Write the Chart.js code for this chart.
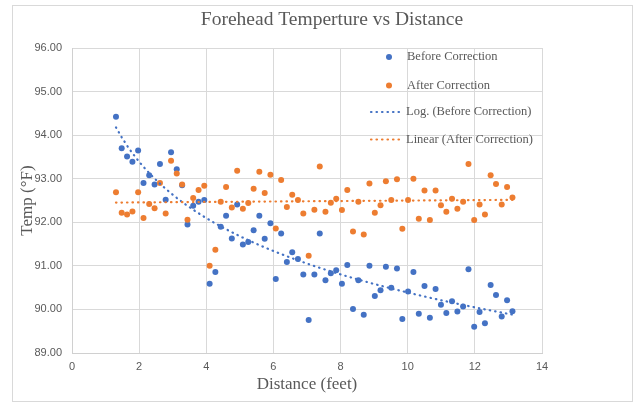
<!DOCTYPE html>
<html>
<head>
<meta charset="utf-8">
<script src="https://cdn.jsdelivr.net/npm/chart.js@4.4.1/dist/chart.umd.min.js"></script>
<style>
html, body { margin: 0; padding: 0; background: #fff; }
</style>
</head>
<body>
<canvas id="graficoTemp" width="642" height="404"></canvas>
<script>
// distance in feet (one reading every 5 cm)
var distanceFt = [1.31,1.48,1.64,1.80,1.97,2.13,2.30,2.46,2.62,2.79,
    2.95,3.12,3.28,3.44,3.61,3.77,3.94,4.10,4.27,4.43,
    4.59,4.76,4.92,5.09,5.25,5.41,5.58,5.74,5.91,6.07,
    6.23,6.40,6.56,6.73,6.89,7.05,7.22,7.38,7.55,7.71,
    7.87,8.04,8.20,8.37,8.53,8.69,8.86,9.02,9.19,9.35,
    9.51,9.68,9.84,10.01,10.17,10.33,10.50,10.66,10.83,10.99,
    11.15,11.32,11.48,11.65,11.81,11.98,12.14,12.30,12.47,12.63,
    12.80,12.96,13.12];

var beforeCorrection = [94.42,93.70,93.51,93.39,93.65,92.90,93.08,92.87,93.34,92.52,
    93.61,93.22,92.85,91.95,92.38,92.47,92.51,90.59,90.86,91.90,
    92.15,91.63,92.41,91.49,91.55,91.82,92.15,91.62,91.98,90.70,
    91.74,91.09,91.31,91.16,90.80,89.76,90.80,91.74,90.67,90.83,
    90.90,90.59,91.02,90.01,90.67,89.88,91.00,90.31,90.44,90.98,
    90.50,90.94,89.78,90.41,90.86,89.90,90.54,89.81,90.47,90.11,
    89.92,90.19,89.95,90.07,90.92,89.60,89.94,89.68,90.56,90.33,
    89.84,90.21,89.96];

var afterCorrection = [92.69,92.22,92.18,92.25,92.69,92.10,92.42,92.32,92.90,92.20,
    93.41,93.12,92.87,92.06,92.56,92.74,92.84,91.00,91.37,92.47,
    92.81,92.34,93.18,92.31,92.44,92.77,93.16,92.67,93.09,91.86,
    92.97,92.35,92.63,92.51,92.20,91.23,92.29,93.28,92.24,92.45,
    92.54,92.28,92.74,91.79,92.47,91.72,92.89,92.22,92.39,92.94,
    92.51,92.99,91.85,92.51,93.00,92.08,92.73,92.05,92.73,92.39,
    92.24,92.54,92.31,92.47,93.34,92.05,92.41,92.18,93.08,92.88,
    92.41,92.81,92.57];

var xTicks = [0, 2, 4, 6, 8, 10, 12, 14];
var yTicks = [89, 90, 91, 92, 93, 94, 95, 96];

var seriesNames = ['Before Correction', 'After Correction',
    'Log. (Before Correction)', 'Linear (After Correction)'];

var azul = '#4472C4';
var laranja = '#ED7D31';
var cinza = '#595959';

function pontos(xs, ys) {
    return xs.map(function (x, i) { return { x: x, y: ys[i] }; });
}

// least squares, like the excel trendlines
function ajuste(xs, ys, f) {
    var n = xs.length, sx = 0, sy = 0, sxx = 0, sxy = 0;
    for (var i = 0; i < n; i++) {
        var u = f(xs[i]);
        sx += u; sy += ys[i]; sxx += u * u; sxy += u * ys[i];
    }
    var b = (n * sxy - sx * sy) / (n * sxx - sx * sx);
    var a = (sy - b * sx) / n;
    return function (x) { return a + b * f(x); };
}

var logBefore = ajuste(distanceFt, beforeCorrection, Math.log);
var linAfter = ajuste(distanceFt, afterCorrection, function (x) { return x; });

var trendLog = distanceFt.map(function (x) { return { x: x, y: logBefore(x) }; });
var xMin = distanceFt[0], xMax = distanceFt[distanceFt.length - 1];
var trendLin = [{ x: xMin, y: linAfter(xMin) }, { x: xMax, y: linAfter(xMax) }];

// title, chart border and the legend sitting inside the plot
var enfeites = {
    id: 'enfeites',
    beforeDraw: function (chart) {
        var c = chart.ctx;
        c.save();
        c.fillStyle = '#fff';
        c.fillRect(0, 0, chart.width, chart.height);
        c.strokeStyle = '#d9d9d9';
        c.lineWidth = 1;
        c.strokeRect(12.5, 5.5, 620, 396);
        c.fillStyle = cinza;
        c.font = '19.5px "Liberation Serif", "Times New Roman", serif';
        c.textAlign = 'center';
        c.textBaseline = 'middle';
        c.fillText('Forehead Temperture vs Distance', 332, 20);
        c.restore();
    },
    afterDraw: function (chart) {
        var c = chart.ctx;
        var ds = chart.data.datasets;
        c.save();
        c.font = '12.5px "Liberation Serif", "Times New Roman", serif';
        c.fillStyle = cinza;
        c.textAlign = 'left';
        c.textBaseline = 'middle';
        var linhas = [57, 85.5, 112, 139.5];
        for (var i = 0; i < 4; i++) {
            var y = linhas[i];
            var d = ds[i];
            if (i < 2) {
                c.beginPath();
                c.fillStyle = d.backgroundColor;
                c.arc(389, y, 3, 0, Math.PI * 2);
                c.fill();
                c.fillStyle = cinza;
                c.fillText(d.label, 407, y);
            } else {
                c.beginPath();
                c.strokeStyle = d.borderColor;
                c.lineWidth = d.borderWidth;
                c.lineCap = 'round';
                c.setLineDash(d.borderDash);
                c.moveTo(371, y);
                c.lineTo(403, y);
                c.stroke();
                c.setLineDash([]);
                c.fillStyle = cinza;
                c.fillText(d.label, 406, y);
            }
        }
        c.restore();
    }
};

var ctx = document.getElementById('graficoTemp').getContext('2d');
var graficoTemp = new Chart(ctx, {
    type: 'scatter',
    data: {
        datasets: [
            {
                label: seriesNames[0],
                data: pontos(distanceFt, beforeCorrection),
                backgroundColor: azul,
                borderColor: azul,
                pointRadius: 3,
                pointBorderWidth: 0,
                order: 3
            },
            {
                label: seriesNames[1],
                data: pontos(distanceFt, afterCorrection),
                backgroundColor: laranja,
                borderColor: laranja,
                pointRadius: 3,
                pointBorderWidth: 0,
                order: 2
            },
            {
                label: seriesNames[2],
                type: 'line',
                data: trendLog,
                borderColor: azul,
                backgroundColor: azul,
                borderWidth: 2.2,
                borderDash: [0.5, 5],
                borderCapStyle: 'round',
                pointRadius: 0,
                fill: false,
                order: 1
            },
            {
                label: seriesNames[3],
                type: 'line',
                data: trendLin,
                borderColor: laranja,
                backgroundColor: laranja,
                borderWidth: 2.2,
                borderDash: [0.5, 5],
                borderCapStyle: 'round',
                pointRadius: 0,
                fill: false,
                order: 0
            }
        ]
    },
    options: {
        responsive: false,
        animation: false,
        layout: { padding: { left: 0, right: 100, top: 48, bottom: 0 } },
        plugins: {
            legend: { display: false },
            tooltip: { enabled: false },
            title: { display: false }
        },
        scales: {
            x: {
                type: 'linear',
                min: 0,
                max: 14,
                afterBuildTicks: function (s) { s.ticks = xTicks.map(function (v) { return { value: v }; }); },
                afterFit: function (s) { s.height = 51; },
                grid: { color: '#d9d9d9', drawTicks: false },
                border: { color: '#d0d0d0' },
                ticks: {
                    padding: 7,
                    color: cinza,
                    font: { family: '"Liberation Sans", Arial, sans-serif', size: 11 }
                },
                title: {
                    display: true,
                    text: 'Distance (feet)',
                    color: cinza,
                    font: { family: '"Liberation Serif", "Times New Roman", serif', size: 17 },
                    padding: { top: 0, bottom: 9 }
                }
            },
            y: {
                min: 89,
                max: 96,
                afterBuildTicks: function (s) { s.ticks = yTicks.map(function (v) { return { value: v }; }); },
                afterFit: function (s) { s.width = 72; },
                grid: { color: '#d9d9d9', drawTicks: false },
                border: { color: '#d0d0d0' },
                ticks: {
                    padding: 10,
                    color: cinza,
                    font: { family: '"Liberation Sans", Arial, sans-serif', size: 11 },
                    callback: function (v) { return Number(v).toFixed(2); }
                },
                title: {
                    display: true,
                    text: 'Temp (°F)',
                    color: cinza,
                    font: { family: '"Liberation Serif", "Times New Roman", serif', size: 17 },
                    padding: { top: 17, bottom: 0 }
                }
            }
        }
    },
    plugins: [enfeites]
});
</script>
</body>
</html>
